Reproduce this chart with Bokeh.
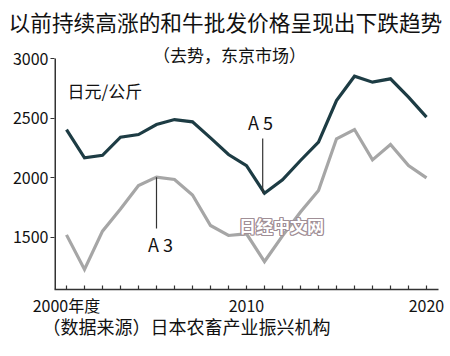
from bokeh.plotting import figure
from bokeh.models import Label, FixedTicker, Range1d, Title
from bokeh.embed import file_html
from bokeh.resources import INLINE

# ---- data ----
years = list(range(2000, 2021))
a5 = [2403, 2165, 2187, 2339, 2361, 2445, 2487, 2468, 2333, 2193, 2100,
      1868, 1980, 2143, 2297, 2647, 2851, 2801, 2829, 2675, 2507]
a3 = [1518, 1227, 1549, 1735, 1933, 2003, 1983, 1853, 1597, 1513, 1527,
      1294, 1510, 1710, 1891, 2325, 2403, 2148, 2277, 2101, 1997]
y_ticks = [1500, 2000, 2500, 3000]
x_tick_labels = {2000: "2000年度", 2010: "2010", 2020: "2020"}

title = "以前持续高涨的和牛批发价格呈现出下跌趋势"
subtitle = "（去势，东京市场）"
unit = "日元/公斤"
source_note = "（数据来源）日本农畜产业振兴机构"
watermark = "日经中文网"

FONT = "Noto Sans CJK SC"
DARK = "#1d3c44"
GRAY = "#a6a6a6"
AXIS = "#333333"

# frame geometry (canvas pixels)
W, H = 450, 356
FL, FR, FT, FB = 54, 438, 38, 289
X0, X1 = 1999.3333, 2020.6667
Y0 = 1059.0
PX_PER_UNIT = (289 - 58) / (3000.0 - Y0)
Y1 = 3000.0 + (58 - FT) / PX_PER_UNIT
Y_AXIS_TOP = max(y_ticks)


def X(px):
    return X0 + (px - FL) * (X1 - X0) / (FR - FL)


def Y(py):
    return Y1 - (py - FT) * (Y1 - Y0) / (FB - FT)


p = figure(width=W, height=H, output_backend="svg", toolbar_location=None,
           x_range=Range1d(X0, X1), y_range=Range1d(Y0, Y1),
           min_border_left=FL, min_border_right=W - FR,
           min_border_top=FT, min_border_bottom=H - FB)
p.grid.visible = False
p.outline_line_color = None
p.background_fill_color = "white"
p.border_fill_color = "white"

# main title above the frame
p.add_layout(Title(text=title, align="left", offset=8 - FL, standoff=3,
                   text_font=FONT, text_font_size="21.7px",
                   text_font_style="normal", text_color="#111111"), "above")

# axes
p.yaxis.ticker = FixedTicker(ticks=y_ticks)
p.yaxis.major_tick_out = 4
p.yaxis.major_tick_in = 0
p.yaxis.minor_tick_line_color = None
p.yaxis.axis_line_color = None
p.yaxis.major_tick_line_color = AXIS
p.yaxis.major_tick_line_width = 1.2
p.yaxis.major_label_standoff = 2
p.yaxis.major_label_text_font = FONT
p.yaxis.major_label_text_font_size = "16px"
p.yaxis.major_label_text_color = "#111111"
# y axis line only from the bottom up to the top tick
p.segment(x0=[X0], y0=[Y0], x1=[X0], y1=[Y_AXIS_TOP], line_color=AXIS, line_width=3)

p.xaxis.ticker = FixedTicker(ticks=years)
p.xaxis.major_label_overrides = {yr: x_tick_labels.get(yr, "") for yr in years}
p.xaxis.major_tick_out = 0
p.xaxis.major_tick_in = 4
p.xaxis.minor_tick_line_color = None
p.xaxis.axis_line_color = AXIS
p.xaxis.axis_line_width = 1.5
p.xaxis.major_tick_line_color = AXIS
p.xaxis.major_tick_line_width = 1.2
p.xaxis.major_label_standoff = 3
p.xaxis.major_label_text_font = FONT
p.xaxis.major_label_text_font_size = "16px"
p.xaxis.major_label_text_color = "#111111"

# source note under the axis
p.add_layout(Title(text=source_note, align="left", offset=-12, standoff=-17,
                   text_font=FONT, text_font_size="18px",
                   text_font_style="normal", text_color="#111111"), "below")

# series
p.line(years, a3, line_color=GRAY, line_width=3.2, line_join="miter")
p.line(years, a5, line_color=DARK, line_width=3.2, line_join="miter")

# callout lines
i5 = years.index(2011)
i3 = years.index(2005)
p.segment(x0=[years[i5] - 0.1], y0=[Y(138)], x1=[years[i5] - 0.1], y1=[a5[i5]],
          line_color=AXIS, line_width=1.2)
p.segment(x0=[years[i3]], y0=[a3[i3]], x1=[years[i3]], y1=[Y(228)],
          line_color=AXIS, line_width=1.2)


def lab(text, px, py, size, align="center", color="#111111", weight="normal",
        xo=0, yo=0):
    p.add_layout(Label(x=X(px), y=Y(py), text=text, text_font=FONT,
                       text_font_size=size, text_align=align,
                       text_baseline="middle", text_color=color,
                       text_font_style=weight, x_offset=xo, y_offset=yo))


lab(subtitle, 229, 54, "17px")
lab(unit, 67, 90, "17px", align="left")
lab("A 5", 260, 121, "18px")
lab("A 3", 160, 243, "18px")

# watermark (outlined text)
for dx, dy in [(-1, 0), (1, 0), (0, -1), (0, 1), (-1, -1), (1, 1), (-1, 1), (1, -1)]:
    lab(watermark, 281, 225, "17px", color="#a08f96", weight="bold", xo=dx, yo=dy)
lab(watermark, 281, 225, "17px", color="#ffffff", weight="bold")

open("out.html", "w").write(file_html(p, INLINE))
